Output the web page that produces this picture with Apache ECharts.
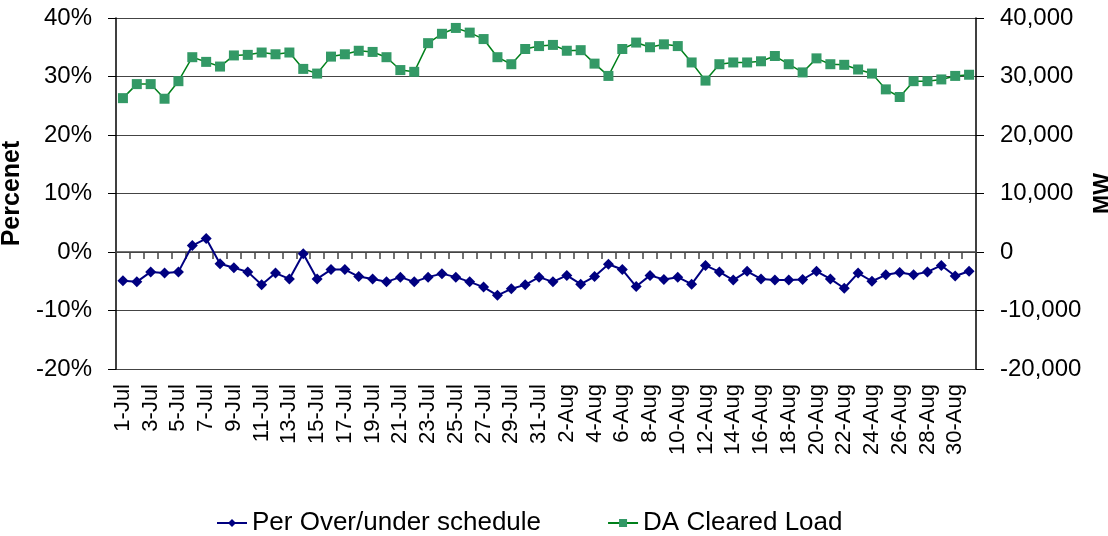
<!DOCTYPE html>
<html>
<head>
<meta charset="utf-8">
<script src="https://cdn.jsdelivr.net/npm/echarts@6/dist/echarts.min.js"></script>
<style>
html,body{margin:0;padding:0;background:#fff;}
#chart{width:1108px;height:536px;}
</style>
</head>
<body>
<div id="chart"></div>
<script>
// Categories: 1-Jul .. 31-Aug
const julyDays = Array.from({length:31}, (_, i) => (i + 1) + '-Jul');
const augDays = Array.from({length:31}, (_, i) => (i + 1) + '-Aug');
const categories = julyDays.concat(augDays);

// Per Over/under schedule (%)
const overUnderPct = [
  -4.9, -5.1, -3.4, -3.6, -3.4, 1.1, 2.3, -2.0, -2.7, -3.4,
  -5.6, -3.6, -4.6, -0.3, -4.6, -3.0, -3.0, -4.2, -4.6, -5.1,
  -4.3, -5.1, -4.3, -3.7, -4.3, -5.1, -6.0, -7.4, -6.3, -5.6,
  -4.3, -5.1, -4.0, -5.5, -4.2, -2.1, -3.0, -5.9, -4.0, -4.7,
  -4.3, -5.5, -2.3, -3.4, -4.8, -3.3, -4.6, -4.8, -4.8, -4.7,
  -3.3, -4.6, -6.2, -3.6, -5.0, -3.9, -3.5, -3.9, -3.4, -2.3,
  -4.1, -3.3
];

// DA Cleared Load (MW)
const daClearedLoad = [
  26300, 28700, 28700, 26200, 29200, 33300, 32500, 31700, 33600, 33700,
  34100, 33800, 34100, 31300, 30500, 33400, 33800, 34400, 34200, 33300,
  31100, 30800, 35700, 37300, 38300, 37500, 36400, 33300, 32100, 34700,
  35200, 35400, 34400, 34500, 32200, 30100, 34700, 35800, 35000, 35500,
  35200, 32400, 29300, 32100, 32400, 32400, 32600, 33500, 32100, 30700,
  33100, 32100, 32000, 31200, 30500, 27800, 26500, 29200, 29200, 29500,
  30100, 30300
];

const seriesNames = ['Per Over/under schedule', 'DA Cleared Load'];

const chart = echarts.init(document.getElementById('chart'));
const font = 'Liberation Sans, Arial, sans-serif';
chart.setOption({
  animation: false,
  backgroundColor: '#ffffff',
  textStyle: {fontFamily: font},
  grid: {left: 116, right: 132, top: 18, bottom: 167, containLabel: false, outerBoundsMode: 'none'},
  legend: {
    left: 211, top: 505,
    itemWidth: 30, itemHeight: 10, itemGap: 66,
    textStyle: {fontSize: 26, color: '#000', fontFamily: font},
    data: seriesNames
  },
  xAxis: [
    {
      type: 'category', data: categories, boundaryGap: true,
      position: 'bottom',
      axisLine: {show: false, onZero: false},
      axisTick: {show: false},
      axisLabel: {rotate: 90, interval: 1, fontSize: 22, color: '#000', margin: 15, fontFamily: font},
      splitLine: {show: false}
    },
    {
      type: 'category', data: categories, boundaryGap: true,
      position: 'bottom',
      axisLine: {show: true, onZero: true, lineStyle: {color: '#444', width: 1.5}},
      axisTick: {show: true, interval: 0, length: 7, inside: false, lineStyle: {color: '#444', width: 1.5}},
      axisLabel: {show: false},
      splitLine: {show: false}
    }
  ],
  yAxis: [
    {
      type: 'value', min: -20, max: 40, interval: 10, position: 'left',
      name: 'Percenet', nameLocation: 'middle', nameRotate: 90, nameGap: 86,
      nameTextStyle: {fontSize: 25, fontWeight: 'bold', color: '#000', fontFamily: font},
      axisLine: {show: true, lineStyle: {color: '#000', width: 1.5}},
      axisTick: {show: true, length: 8, lineStyle: {color: '#000'}},
      axisLabel: {formatter: '{value}%', fontSize: 24, color: '#000', margin: 24, fontFamily: font},
      splitLine: {show: true, lineStyle: {color: '#444', width: 1.2}}
    },
    {
      type: 'value', min: -20000, max: 40000, interval: 10000, position: 'right',
      name: 'MW', nameLocation: 'middle', nameRotate: 90, nameGap: 106,
      nameTextStyle: {fontSize: 23, fontWeight: 'bold', color: '#000', fontFamily: font},
      axisLine: {show: true, lineStyle: {color: '#000', width: 1.5}},
      axisTick: {show: true, length: 8, lineStyle: {color: '#000'}},
      axisLabel: {
        fontSize: 24, color: '#000', margin: 24, fontFamily: font,
        formatter: v => v.toLocaleString('en-US')
      },
      splitLine: {show: false}
    }
  ],
  series: [
    {
      name: seriesNames[0], type: 'line', xAxisIndex: 0, yAxisIndex: 0,
      data: overUnderPct, showAllSymbol: true,
      symbol: 'diamond', symbolSize: 11,
      itemStyle: {color: '#000080'},
      lineStyle: {color: '#000080', width: 2}
    },
    {
      name: seriesNames[1], type: 'line', xAxisIndex: 0, yAxisIndex: 1,
      data: daClearedLoad, showAllSymbol: true,
      symbol: 'rect', symbolSize: 10,
      itemStyle: {color: '#339966'},
      lineStyle: {color: '#00801a', width: 1.5}
    }
  ]
});
</script>
</body>
</html>
